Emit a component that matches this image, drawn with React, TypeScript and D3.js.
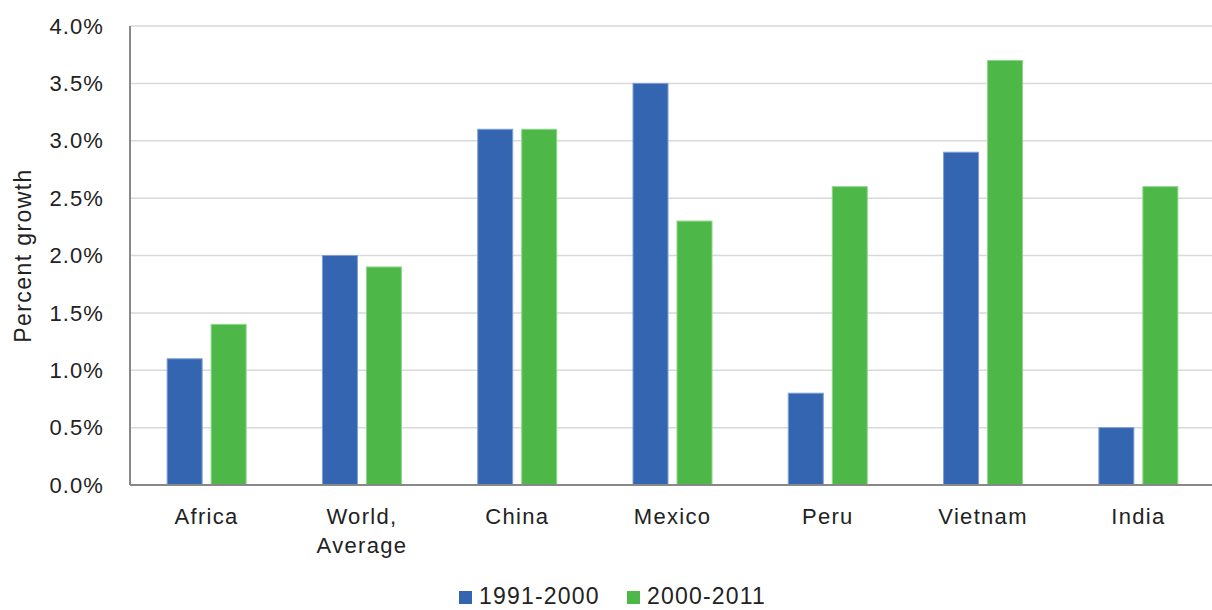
import React from "react";
import * as d3 from "d3";

const categories = ["Africa", "World, Average", "China", "Mexico", "Peru", "Vietnam", "India"];
const series1991 = [1.1, 2.0, 3.1, 3.5, 0.8, 2.9, 0.5];
const series2000 = [1.4, 1.9, 3.1, 2.3, 2.6, 3.7, 2.6];
const seriesNames = ["1991-2000", "2000-2011"];
const yTicks = [0, 0.5, 1.0, 1.5, 2.0, 2.5, 3.0, 3.5, 4.0];

const W = 1212;
const H = 610;
const left = 130;
const right = 1217;
const top = 26;
const bottom = 485;
const colors = ["#3465b1", "#4db848"];
const strokes = ["#7f9fd6", "#8fd68b"];
const font = "'Liberation Sans', Arial, Helvetica, sans-serif";

export default function App() {
  const x = d3.scaleBand<string>().domain(categories).range([left, right]).paddingInner(0).paddingOuter(0);
  const y = d3.scaleLinear().domain([0, 4]).range([bottom, top]);
  const barW = 35;
  const gap = 9;
  const data = [series1991, series2000];
  return (
    <svg width={W} height={H} style={{ position: "absolute", left: 0, top: 0 }} fontFamily={font}>
      {yTicks.map((t) => (
        <g key={t}>
          {t > 0 && (
            <line x1={left} x2={W} y1={y(t)} y2={y(t)} stroke="#d9d9d9" strokeWidth={1.5} />
          )}
          <text x={104} y={y(t)} dy="0.35em" textAnchor="end" fontSize={22} letterSpacing={1.1} fill="#222">
            {t.toFixed(1) + "%"}
          </text>
        </g>
      ))}
      {categories.map((c, i) => {
        const cx = (x(c) as number) + x.bandwidth() / 2 - 1;
        return (
          <g key={c}>
            {data.map((s, k) => {
              const bx = cx - gap / 2 - barW + k * (barW + gap);
              return (
                <rect
                  key={k}
                  x={bx}
                  y={y(s[i])}
                  width={barW}
                  height={bottom - y(s[i])}
                  fill={colors[k]}
                  stroke={strokes[k]}
                  strokeWidth={1}
                />
              );
            })}
            {c.split(" ").map((part, j) => (
              <text key={j} x={cx} y={524 + j * 29} textAnchor="middle" fontSize={22} letterSpacing={1.3} fill="#222">
                {part}
              </text>
            ))}
          </g>
        );
      })}
      <line x1={left} x2={left} y1={top} y2={bottom} stroke="#888" strokeWidth={2} />
      <line x1={left} x2={W} y1={bottom} y2={bottom} stroke="#888" strokeWidth={2} />
      <text
        transform={`translate(31, ${(top + bottom) / 2}) rotate(-90)`}
        textAnchor="middle"
        fontSize={23}
        letterSpacing={1.4}
        fill="#222"
      >
        Percent growth
      </text>
      {seriesNames.map((n, k) => {
        const lx = k === 0 ? 459 : 627;
        return (
          <g key={n}>
            <rect x={lx} y={591} width={13} height={13} fill={colors[k]} />
            <text x={lx + 20} y={604} fontSize={23} letterSpacing={1.2} fill="#222">
              {n}
            </text>
          </g>
        );
      })}
    </svg>
  );
}
